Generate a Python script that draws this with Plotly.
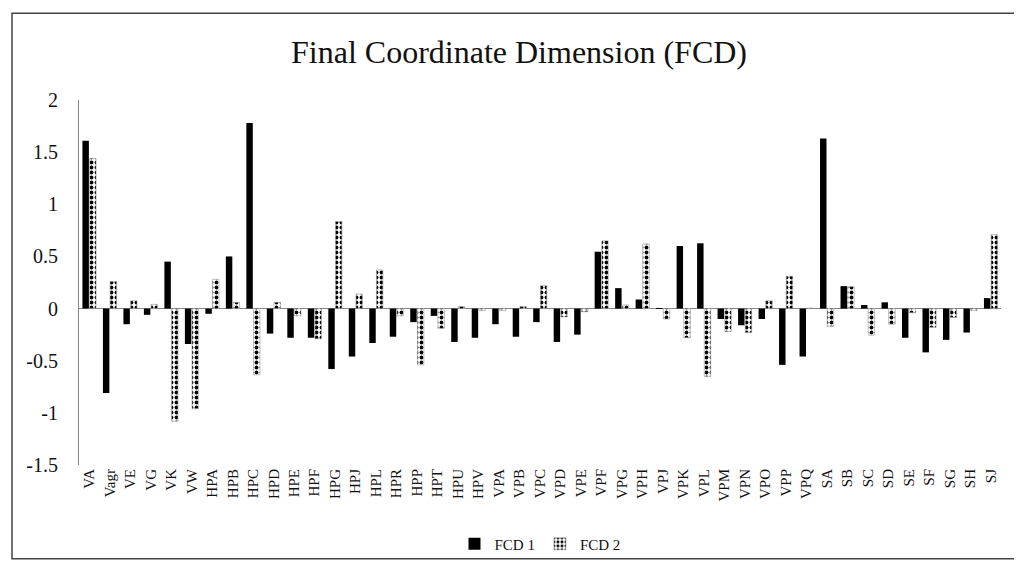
import plotly.graph_objects as go

categories = ["VA", "Vagr", "VE", "VG", "VK", "VW", "HPA", "HPB", "HPC", "HPD", "HPE", "HPF",
              "HPG", "HPJ", "HPL", "HPR", "HPP", "HPT", "HPU", "HPV", "VPA", "VPB", "VPC", "VPD",
              "VPE", "VPF", "VPG", "VPH", "VPJ", "VPK", "VPL", "VPM", "VPN", "VPO", "VPP", "VPQ",
              "SA", "SB", "SC", "SD", "SE", "SF", "SG", "SH", "SJ"]

fcd1 = [1.61, -0.81, -0.15, -0.06, 0.45, -0.34, -0.05, 0.50, 1.78, -0.24, -0.28, -0.28,
        -0.58, -0.46, -0.33, -0.27, -0.13, -0.07, -0.32, -0.28, -0.15, -0.27, -0.13, -0.32,
        -0.25, 0.545, 0.196, 0.087, 0.005, 0.60, 0.626, -0.10, -0.16, -0.10, -0.54, -0.46,
        1.63, 0.215, 0.034, 0.06, -0.28, -0.42, -0.30, -0.23, 0.10]

fcd2 = [1.44, 0.26, 0.075, 0.04, -1.08, -0.96, 0.28, 0.06, -0.635, 0.06, -0.07, -0.29,
        0.835, 0.14, 0.37, -0.07, -0.54, -0.19, 0.02, -0.02, -0.02, 0.02, 0.22, -0.08,
        -0.03, 0.65, 0.035, 0.62, -0.10, -0.28, -0.65, -0.22, -0.23, 0.075, 0.31, 0.005,
        -0.17, 0.21, -0.255, -0.15, -0.04, -0.18, -0.085, -0.02, 0.71]

series_names = ["FCD 1", "FCD 2"]
y_ticks = [-1.5, -1, -0.5, 0, 0.5, 1, 1.5, 2]
y_tick_labels = ["-1.5", "-1", "-0.5", "0", "0.5", "1", "1.5", "2"]

serif = "Liberation Serif"

fig = go.Figure()
fig.add_trace(go.Bar(
    x=categories, y=fcd1, name=series_names[0],
    marker=dict(color="black", line=dict(width=0)),
))
fig.add_trace(go.Bar(
    x=categories, y=fcd2, name=series_names[1],
    marker=dict(color="white", line=dict(color="#999999", width=0.6),
                pattern=dict(shape=".", fgcolor="black", bgcolor="white", fgopacity=1,
                             size=5, solidity=0.45, fillmode="overlay")),
))

L, R, T, B = 71, 29, 92, 99
W, H = 1022, 565
pw, ph = W - L - R, H - T - B

fig.update_layout(
    width=W, height=H,
    margin=dict(l=L, r=R, t=T, b=B),
    paper_bgcolor="white", plot_bgcolor="white",
    barmode="group", bargap=0.3, bargroupgap=0.1,
    title=dict(text="Final Coordinate Dimension (FCD)", x=0.5, xanchor="center",
               y=1 - 44 / H, yanchor="middle",
               font=dict(family=serif, size=32, color="#111111")),
    font=dict(family=serif, color="#111111"),
    showlegend=True,
    legend=dict(orientation="h", x=0.5, xanchor="center", y=(ph - (547 - T)) / ph,
                yanchor="middle", font=dict(family=serif, size=15, color="#111111"),
                bgcolor="rgba(0,0,0,0)", itemwidth=30, traceorder="normal"),
    xaxis=dict(type="category", tickangle=-90, showline=False, showgrid=False,
               ticks="", tickfont=dict(family=serif, size=15, color="#111111")),
    yaxis=dict(range=[-1.5, 2], tickvals=y_ticks, ticktext=y_tick_labels,
               showgrid=False, showline=True, linecolor="#888888", linewidth=1,
               zeroline=True, zerolinecolor="#888888", zerolinewidth=1,
               ticks="", ticklabelstandoff=16,
               tickfont=dict(family=serif, size=20, color="#111111")),
)

# outer frame around the chart
fig.add_shape(type="rect", xref="paper", yref="paper",
              x0=(4 - L) / pw, x1=(1019 - L) / pw,
              y0=(ph - (562 - T)) / ph, y1=(ph - (3 - T)) / ph,
              line=dict(color="#444444", width=1.5), fillcolor="rgba(0,0,0,0)", layer="below")

fig.write_html("out.html")
